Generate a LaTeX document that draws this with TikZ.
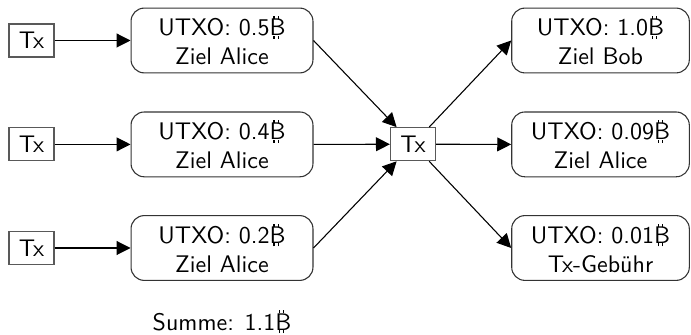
\documentclass[tikz,border=0pt]{standalone}
\usepackage{fontspec}
\usetikzlibrary{arrows.meta}
% Bitcoin sign: a B with two short strokes above and below
\newcommand{\btcsign}{\leavevmode\rlap{\hspace{1.55pt}%
  \rlap{\rule[6.94pt]{0.5pt}{1.3pt}}\rule[-1.3pt]{0.5pt}{1.3pt}%
  \hspace{1.25pt}%
  \rlap{\rule[6.94pt]{0.5pt}{1.3pt}}\rule[-1.3pt]{0.5pt}{1.3pt}}B}
\tikzset{
  txbox/.style={draw=black!65, line width=0.5pt, font=\sffamily,
    minimum width=18.75pt, minimum height=13.75pt, inner sep=0pt},
  utxo/.style={draw=black!80, line width=0.45pt, rounded corners=5.5pt,
    font=\sffamily, align=center, minimum height=27pt, inner sep=0pt},
  utxoin/.style={utxo, minimum width=75.8pt},
  utxoout/.style={utxo, minimum width=74pt},
  flow/.style={line width=0.45pt, -{Triangle[length=5.8pt,width=5.8pt]}}
}
\begin{document}
\begin{tikzpicture}[x=0.41667pt, y=-0.41667pt]
  \useasboundingbox (0,0) rectangle (691,335);
  % source transactions
  \node[txbox] (t1) at (31.5,40.5) {Tx};
  \node[txbox] (t2) at (31.5,144.4) {Tx};
  \node[txbox] (t3) at (31.5,248) {Tx};
  % outputs spent as inputs
  \node[utxoin] (i1) at (222,40.5) {UTXO: 0.5\btcsign\\Ziel Alice};
  \node[utxoin] (i2) at (222,144.4) {UTXO: 0.4\btcsign\\Ziel Alice};
  \node[utxoin] (i3) at (222,248) {UTXO: 0.2\btcsign\\Ziel Alice};
  % the spending transaction
  \node[txbox] (tx) at (413,144.2) {Tx};
  % new outputs
  \node[utxoout] (o1) at (600.5,40.5) {UTXO: 1.0\btcsign\\Ziel Bob};
  \node[utxoout] (o2) at (600.5,144.4) {UTXO: 0.09\btcsign\\Ziel Alice};
  \node[utxoout] (o3) at (600.5,248) {UTXO: 0.01\btcsign\\Tx-Gebühr};
  % total of the inputs
  \node[font=\sffamily, anchor=base] (sum) at (222,330) {Summe: 1.1\btcsign};
  % connectors
  \draw[flow] (t1) -- (i1);
  \draw[flow] (t2) -- (i2);
  \draw[flow] (t3) -- (i3);
  \draw[flow] (i1.east) -- (tx);
  \draw[flow] (i2.east) -- (tx);
  \draw[flow] (i3.east) -- (tx);
  \draw[flow] (tx) -- (o1.west);
  \draw[flow] (tx) -- (o2.west);
  \draw[flow] (tx) -- (o3.west);
\end{tikzpicture}
\end{document}
